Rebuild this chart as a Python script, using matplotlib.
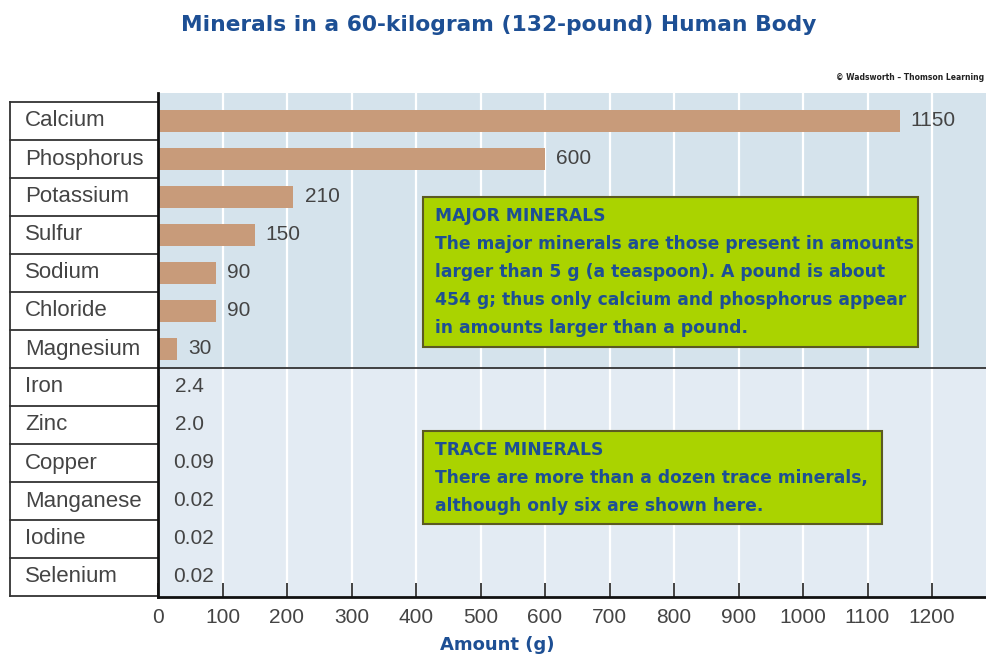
import matplotlib
matplotlib.use("Agg")
import matplotlib.pyplot as plt
from matplotlib.patches import Rectangle
import matplotlib.transforms as mtransforms

# ---- data ----
minerals = ["Calcium", "Phosphorus", "Potassium", "Sulfur", "Sodium", "Chloride",
            "Magnesium", "Iron", "Zinc", "Copper", "Manganese", "Iodine", "Selenium"]
amounts = [1150, 600, 210, 150, 90, 90, 30, 2.4, 2.0, 0.09, 0.02, 0.02, 0.02]
amount_labels = ["1150", "600", "210", "150", "90", "90", "30",
                 "2.4", "2.0", "0.09", "0.02", "0.02", "0.02"]
n_major = 7
xticks = [0, 100, 200, 300, 400, 500, 600, 700, 800, 900, 1000, 1100, 1200]

title = "Minerals in a 60-kilogram (132-pound) Human Body"
xlabel = "Amount (g)"
credit = "© Wadsworth – Thomson Learning"
major_title = "MAJOR MINERALS"
major_lines = ["The major minerals are those present in amounts",
               "larger than 5 g (a teaspoon). A pound is about",
               "454 g; thus only calcium and phosphorus appear",
               "in amounts larger than a pound."]
trace_title = "TRACE MINERALS"
trace_lines = ["There are more than a dozen trace minerals,",
               "although only six are shown here."]

# ---- style ----
W, H = 986, 658
BAR = "#c89b7a"
BG_MAJOR = "#d5e3ec"
BG_TRACE = "#e3ebf3"
BOX = "#aad300"
BOX_EDGE = "#5b5a22"
BLUE = "#1d4f94"
GRAY = "#444444"
LINE = "#333333"
LBL = "Liberation Sans"

fig = plt.figure(figsize=(W / 100, H / 100), dpi=100)
ax_l, ax_r, ax_t, ax_b = 158, 986, 93, 597
ax = fig.add_axes([ax_l / W, 1 - ax_b / H, (ax_r - ax_l) / W, (ax_b - ax_t) / H])

n = len(minerals)
ys = list(range(n))
ax.set_xlim(0, (ax_r - ax_l) / 0.645)
ax.set_ylim((ax_b - 121) / 38, (ax_t - 121) / 38)

# backgrounds
ax.set_facecolor(BG_TRACE)
ax.axhspan((ax_t - 121) / 38, n_major - 0.5, color=BG_MAJOR, zorder=0, lw=0)
for xt in xticks[1:]:
    ax.axvline(xt, color="white", lw=1.6, zorder=1)
ax.axvline(1300, color="white", lw=1.6, zorder=1)

ax.barh(ys, amounts, height=0.6, color=BAR, zorder=2)

px = ax.get_xlim()[1] / (ax_r - ax_l)  # data units per pixel
for y, v, s in zip(ys, amounts, amount_labels):
    off = 8 if v >= 10 else 11
    ax.annotate(s, (v, y), xytext=(off, 0), textcoords="offset points",
                va="center", ha="left", fontsize=15, family=LBL,
                color=GRAY, zorder=3)

# divider between major and trace
ax.axhline(n_major - 0.5, color=LINE, lw=1.3, zorder=3)

# left label table
trans = mtransforms.blended_transform_factory(ax.transAxes, ax.transData)
x0 = (10 - ax_l) / (ax_r - ax_l)
for i in range(n + 1):
    ax.plot([x0, 0], [i - 0.5, i - 0.5], transform=trans, color=LINE,
            lw=1.3, clip_on=False, zorder=4)
ax.plot([x0, x0], [-0.5, n - 0.5], transform=trans, color=LINE, lw=1.3,
        clip_on=False, zorder=4)
xt_lab = (25 - ax_l) / (ax_r - ax_l)
for y, name in zip(ys, minerals):
    ax.text(xt_lab, y, name, transform=trans, va="center", ha="left",
            fontsize=16, family=LBL, color=GRAY)

# axes styling
ax.set_yticks([])
ax.set_xticks(xticks)
ax.set_xticklabels([str(t) for t in xticks], fontsize=15, family=LBL, color=GRAY)
ax.tick_params(axis="x", direction="in", length=10, width=1.2, color="#222222", pad=8)
for s in ["top", "right"]:
    ax.spines[s].set_visible(False)
for s in ["left", "bottom"]:
    ax.spines[s].set_color("#111111")
    ax.spines[s].set_linewidth(2)
    ax.spines[s].set_zorder(5)

# annotation boxes
def box(x1, x2, y1, y2, head, lines):
    X1, X2 = (x1 - ax_l) * px, (x2 - ax_l) * px
    Y1, Y2 = (y1 - 121) / 38, (y2 - 121) / 38
    ax.add_patch(Rectangle((X1, Y1), X2 - X1, Y2 - Y1, facecolor=BOX,
                           edgecolor=BOX_EDGE, lw=1.5, zorder=6))
    tx = (x1 + 12 - ax_l) * px
    for k, t in enumerate([head] + lines):
        yy = (y1 + 19 + 28 * k - 121) / 38
        ax.text(tx, yy, t, va="center", ha="left", fontsize=12.3,
                fontweight="bold", family="DejaVu Sans", color=BLUE, zorder=7)

box(423, 918, 197, 347, major_title, major_lines)
box(423, 882, 431, 524, trace_title, trace_lines)

# titles
fig.text(499 / W, 1 - 25 / H, title, ha="center", va="center", fontsize=15.7,
         fontweight="bold", family="DejaVu Sans", color=BLUE)
fig.text(984 / W, 1 - 78 / H, credit, ha="right", va="center", fontsize=5.5,
         fontweight="bold", family="DejaVu Sans", color="#222222")
fig.text(497 / W, 1 - 645 / H, xlabel, ha="center", va="center", fontsize=13,
         fontweight="bold", family="DejaVu Sans", color=BLUE)

fig.savefig("out.png", dpi=100, facecolor="white")
